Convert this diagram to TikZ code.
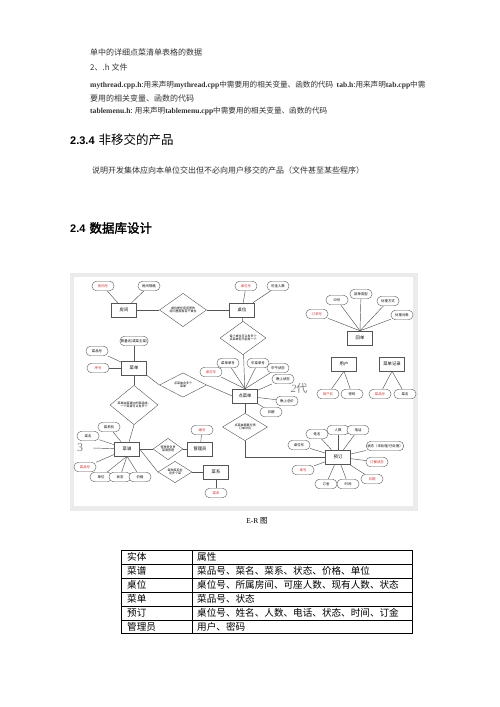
\documentclass[tikz,border=0pt]{standalone}
\usepackage{fontspec}
\setmainfont{Liberation Serif}
\newfontfamily\cjk{Noto Sans CJK SC}
\newfontfamily\cjkb[FakeBold=2]{Noto Sans CJK SC}
\newfontfamily\arial{Liberation Sans}
\usetikzlibrary{shapes.geometric}

\definecolor{linegray}{HTML}{555555}
\definecolor{keyred}{HTML}{D03030}
\definecolor{framegray}{HTML}{EBEBEB}
\definecolor{bodytext}{HTML}{333333}

\newcommand\lt[1]{{\rmfamily\bfseries #1}}

\tikzset{
  ent/.style={draw=linegray, fill=white, minimum width=25pt, minimum height=14pt, inner sep=0pt, font=\cjk\fontsize{4.3}{5}\selectfont},
  attr/.style={draw=linegray, fill=white, rounded corners=4.5pt, minimum width=22pt, minimum height=9.5pt, inner sep=1pt, font=\cjk\fontsize{3.4}{4}\selectfont},
  keyattr/.style={attr, text=keyred},
  rel/.style={diamond, draw=linegray, fill=white, inner sep=0pt, align=center, font=\cjk\fontsize{3}{3.6}\selectfont},
  link/.style={draw=linegray, line width=0.45pt},
  txt/.style={anchor=west, inner sep=0pt, text=bodytext, font=\cjk\fontsize{8}{9}\selectfont},
  cell/.style={anchor=west, inner sep=0pt, font=\cjk\fontsize{9.6}{10}\selectfont},
}

\begin{document}
\begin{tikzpicture}[x=1pt,y=-1pt]
\fill[white] (0,0) rectangle (500,707);
\useasboundingbox (0,0) rectangle (500,707);

% text above
\node[txt] (l1) at (90,52) {单中的详细点菜清单表格的数据};
\node[txt] (l2) at (90,67) {2、.h 文件};
\node[txt, font=\cjk\fontsize{7.6}{9}\selectfont] (l3) at (90,85) {\lt{mythread.cpp.h}:用来声明\lt{mythread.cpp}中需要用的相关变量、函数的代码\ \ \lt{tab.h}:用来声明\lt{tab.cpp}中需};
\node[txt] (l4) at (90,98) {要用的相关变量、函数的代码};
\node[txt, font=\cjk\fontsize{7.6}{9}\selectfont] (l5) at (90,111) {\lt{tablemenu.h}: 用来声明\lt{tablemenu.cpp}中需要用的相关变量、函数的代码};

\node[anchor=west, inner sep=0pt] (h1) at (70,140) {{\arial\bfseries\fontsize{11}{12}\selectfont 2.3.4}\hspace{4pt}{\cjk\fontsize{12.5}{13}\selectfont 非移交的产品}};
\node[txt] (l6) at (92,170) {说明开发集体应向本单位交出但不必向用户移交的产品（文件甚至某些程序）};
\node[anchor=west, inner sep=0pt] (h2) at (70,228) {{\arial\bfseries\fontsize{11}{12}\selectfont 2.4}\hspace{4pt}{\cjkb\fontsize{12.5}{13}\selectfont 数据库设计}};

% E-R frame
\fill[framegray] (70,273) rectangle (418,511);
\fill[white] (74,277) rectangle (413,506);

% entities
\node[ent] (fj) at (124,310) {房间};
\node[ent] (zw) at (242,310) {桌位};
\node[ent] (cb) at (245,396) {点菜单};
\node[ent] (cd) at (134,368) {菜单};
\node[ent] (cp) at (127,449) {菜谱};
\node[ent] (gl) at (200,449) {管理员};
\node[ent] (cx) at (216,472) {菜系};
\node[ent] (yd) at (338,457) {预订};
\node[ent] (hd) at (360,338) {回单};
\node[ent] (yh) at (344,364) {用户};
\node[ent] (jl) at (392,364) {菜单记录};

% relations
\node[rel, minimum width=47pt, minimum height=24pt] (r1) at (183,310) {桌位是在房间里的\\房间里面有若干桌位};
\node[rel, minimum width=46pt, minimum height=25pt] (r2) at (243,338) {每个桌位可以有多个\\点菜单但只能有一个};
\node[rel, minimum width=47pt, minimum height=22pt] (r3) at (183,385) {点菜单含多个\\菜单};
\node[rel, minimum width=48pt, minimum height=26pt] (r4) at (134,405) {菜单由菜谱中的菜组成，\\一个菜谱可以有多个};
\node[rel, minimum width=30pt, minimum height=18pt] (r5) at (168,449) {管理员负责\\菜谱管理};
\node[rel, minimum width=34pt, minimum height=19pt] (r6) at (175,472) {每种菜系包\\含多个菜};
\node[rel, minimum width=45pt, minimum height=23pt] (r7) at (245,427) {点菜单需要与预\\订单对应};
\coordinate (bend) at (245,457);

% attributes
\node[keyattr] (fj1) at (103,286) {房间号};
\node[attr] (fj2) at (149,286) {房间规格};
\node[keyattr] (zw1) at (246,286) {桌位号};
\node[attr] (zw2) at (278,286) {可坐人数};

\node[keyattr] (cb1) at (211,372) {桌位号};
\node[attr] (cb2) at (228,363) {菜单单号};
\node[attr] (cb3) at (258,363) {中菜单号};
\node[attr] (cb4) at (278,368) {中午状态};
\node[attr] (cb5) at (283,379) {晚上状态};
\node[attr] (cb6) at (287,401) {晚上总价};
\node[attr] (cb7) at (271,412) {日期};
\node[text=gray, font=\itshape\fontsize{11}{11}\selectfont, inner sep=0pt] (hw2) at (299,388) {2{\cjk 代}};

\node[attr] (cd1) at (134,341) {数量名(或菜主菜)};
\node[attr] (cd2) at (97,351) {菜品号};
\node[keyattr] (cd3) at (98,368) {序号};

\node[attr] (cp1) at (109,427) {菜系别};
\node[attr] (cp2) at (88,436) {菜名};
\node[keyattr] (cp3) at (85,467) {菜品号};
\node[attr] (cp4) at (101,477) {单位};
\node[attr] (cp5) at (120,477) {状态};
\node[attr] (cp6) at (140,477) {价格};
\node[text=gray, font=\fontsize{12}{12}\selectfont, inner sep=0pt] (hw3) at (80,448) {3};
\coordinate (hw3e) at (93,448);

\node[keyattr] (gl1) at (202,430) {编号};
\node[keyattr] (cx1) at (216,493) {菜系};

\node[attr] (yd1) at (299,445) {桌位号};
\node[attr] (yd2) at (317,434) {姓名};
\node[attr] (yd3) at (338,430) {人数};
\node[attr] (yd4) at (358,430) {电话};
\node[attr] (yd5) at (385,446) {状态（未处理/已处理）};
\node[keyattr] (yd6) at (377,462) {订餐状态};
\node[keyattr] (yd7) at (372,479) {日期};
\node[attr] (yd8) at (348,484) {时间};
\node[attr] (yd9) at (326,484) {订金};
\node[keyattr] (yd10) at (303,470) {桌号};

\node[keyattr] (hd1) at (317,314) {订单号};
\node[attr] (hd2) at (337,300) {ID号};
\node[attr] (hd3) at (361,294) {回单类型};
\node[attr] (hd4) at (388,301) {处理方式};
\node[attr] (hd5) at (402,315) {处理对象};

\node[keyattr] (yh1) at (328,394) {用户名};
\node[attr] (yh2) at (352,394) {密码};
\node[keyattr] (jl1) at (380,394) {菜品号};
\node[attr] (jl2) at (405,394) {菜名};

% connectors
\draw[link] (fj) -- (r1) -- (zw);
\draw[link] (fj) -- (fj1);
\draw[link] (fj) -- (fj2);
\draw[link] (zw) -- (zw1);
\draw[link] (zw) -- (zw2);
\draw[link] (zw) -- (r2) -- (cb);
\draw[link] (cb.north) -- (cb1);
\draw[link] (cb.north) -- (cb2);
\draw[link] (cb.north) -- (cb3);
\draw[link] (cb.north) -- (cb4);
\draw[link] (cb) -- (cb5);
\draw[link] (cb) -- (cb6);
\draw[link] (cb) -- (cb7);
\draw[link] (cb) -- (r7);
\draw[link] (r7.south) -- (bend) -- (yd.west);
\draw[link] (cd.south east) -- (r3.west);
\draw[link] (r3.east) -- (cb.west);
\draw[link] (cd) -- (cd1);
\draw[link] (cd) -- (cd2);
\draw[link] (cd) -- (cd3);
\draw[link] (cd) -- (r4);
\draw[link] (r4.south) -- (cp);
\draw[link] (cp) -- (cp1);
\draw[link] (cp) -- (cp2);
\draw[link] (cp) -- (cp3);
\draw[link] (cp.south) -- (cp4);
\draw[link] (cp.south) -- (cp5);
\draw[link] (cp.south) -- (cp6);
\draw[link] (hw3e) -- (cp);
\draw[link] (cp) -- (r5) -- (gl);
\draw[link] (gl) -- (gl1);
\draw[link] (cp.east) -- (r6.west);
\draw[link] (r6) -- (cx);
\draw[link] (cx) -- (cx1);
\draw[link] (yd) -- (yd1);
\draw[link] (yd) -- (yd2);
\draw[link] (yd) -- (yd3);
\draw[link] (yd) -- (yd4);
\draw[link] (yd) -- (yd5);
\draw[link] (yd) -- (yd6);
\draw[link] (yd) -- (yd7);
\draw[link] (yd) -- (yd8);
\draw[link] (yd) -- (yd9);
\draw[link] (yd) -- (yd10);
\draw[link] (hd.north) -- (hd1);
\draw[link] (hd.north) -- (hd2);
\draw[link] (hd.north) -- (hd3);
\draw[link] (hd.north) -- (hd4);
\draw[link] (hd.north) -- (hd5);
\draw[link] (yh.south) -- (yh1);
\draw[link] (yh.south) -- (yh2);
\draw[link] (jl.south) -- (jl1);
\draw[link] (jl.south) -- (jl2);

\node[inner sep=0pt, font=\fontsize{7.5}{8}\selectfont] (cap) at (257,521) {E-R {\cjk 图}};

% table
\draw[line width=0.6pt] (121,550) rectangle (412,633);
\foreach \y in {564,578,592,606,620} \draw[line width=0.6pt] (121,\y) -- (412,\y);
\draw[line width=0.6pt] (192,550) -- (192,633);
\node[cell] (t1a) at (127,557) {实体};
\node[cell] (t1b) at (197,557) {属性};
\node[cell] (t2a) at (127,571) {菜谱};
\node[cell] (t2b) at (197,571) {菜品号、菜名、菜系、状态、价格、单位};
\node[cell] (t3a) at (127,585) {桌位};
\node[cell] (t3b) at (197,585) {桌位号、所属房间、可座人数、现有人数、状态};
\node[cell] (t4a) at (127,599) {菜单};
\node[cell] (t4b) at (197,599) {菜品号、状态};
\node[cell] (t5a) at (127,613) {预订};
\node[cell] (t5b) at (197,613) {桌位号、姓名、人数、电话、状态、时间、订金};
\node[cell] (t6a) at (127,626.5) {管理员};
\node[cell] (t6b) at (197,626.5) {用户、密码};
\end{tikzpicture}
\end{document}
